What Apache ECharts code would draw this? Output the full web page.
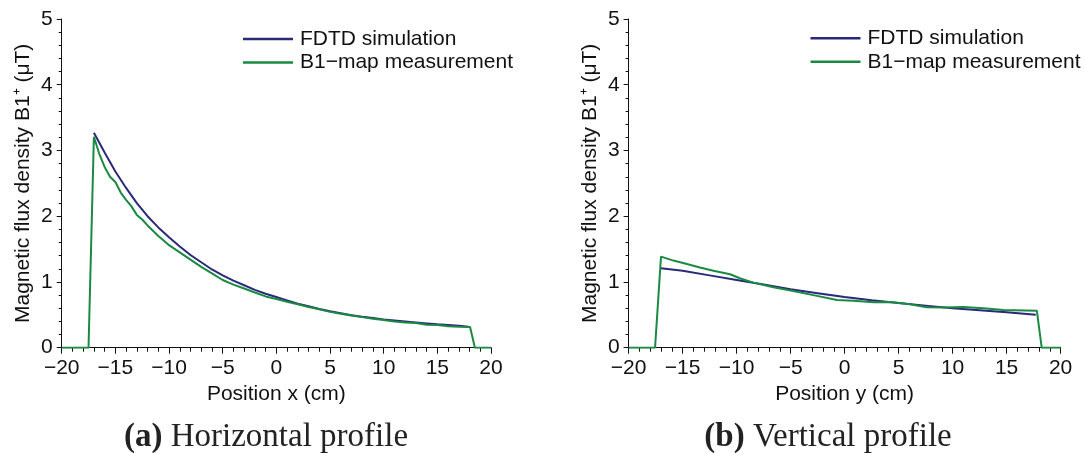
<!DOCTYPE html>
<html>
<head>
<meta charset="utf-8">
<script src="https://cdn.jsdelivr.net/npm/echarts@6/dist/echarts.min.js"></script>
<style>
  html, body { margin: 0; padding: 0; background: #fff; }
  #chart { width: 1085px; height: 453px; }
</style>
</head>
<body>
<div id="chart"></div>
<script>
// Horizontal profile (x direction)
const horizSimPos = [-17, -16, -15, -14, -13, -12, -11, -10, -9, -8, -7, -6, -5, -4, -3, -2, -1, 0,
  1, 2, 3, 4, 5, 6, 7, 8, 9, 10, 11, 12, 13, 14, 15, 16, 17, 17.9];
const horizSimB1 = [3.27, 2.97, 2.68, 2.43, 2.20, 2.00, 1.83, 1.68, 1.54, 1.41, 1.30, 1.19, 1.10, 1.02, 0.95, 0.88, 0.82, 0.77,
  0.72, 0.67, 0.63, 0.59, 0.555, 0.525, 0.495, 0.47, 0.45, 0.43, 0.415, 0.40, 0.385, 0.37, 0.355, 0.345, 0.335, 0.32];

const horizMeasPos = [-20, -17.5, -17, -16.5, -16, -15.5, -15, -14.5, -14, -13.5, -13, -12.5, -12, -11.5, -11, -10.5, -10,
  -9, -8, -7, -6, -5, -4, -3, -2, -1, 0, 1, 2, 3, 4, 5, 6, 7, 8, 9, 10, 11, 12, 13, 14, 15, 16, 17, 18.05, 18.5, 20];
const horizMeasB1 = [0, 0, 3.21, 2.95, 2.75, 2.60, 2.52, 2.36, 2.25, 2.15, 2.02, 1.95, 1.86, 1.78, 1.70, 1.63, 1.56,
  1.45, 1.34, 1.23, 1.13, 1.03, 0.96, 0.90, 0.84, 0.78, 0.74, 0.70, 0.66, 0.62, 0.585, 0.545, 0.515, 0.49, 0.465, 0.44,
  0.42, 0.40, 0.385, 0.375, 0.35, 0.345, 0.325, 0.32, 0.315, 0, 0];

// Vertical profile (y direction)
const vertSimPos = [-17, -15, -12.5, -10, -7.5, -5, -2.5, 0, 2.5, 5, 7.5, 10, 12.5, 15, 17.7];
const vertSimB1 = [1.21, 1.17, 1.10, 1.03, 0.96, 0.89, 0.83, 0.77, 0.72, 0.68, 0.64, 0.60, 0.57, 0.54, 0.50];

const vertMeasPos = [-20, -17.55, -17, -15.85, -14.6, -13.4, -12.15, -10.6, -9.7, -8.45, -6.6, -4.75, -2.9, -0.7,
  0.8, 2.7, 4.2, 6.05, 7.6, 9.15, 11.0, 12.85, 14.7, 17.8, 18.25, 20];
const vertMeasB1 = [0, 0, 1.385, 1.325, 1.274, 1.22, 1.17, 1.117, 1.056, 0.99, 0.92, 0.863, 0.80, 0.726,
  0.716, 0.69, 0.695, 0.66, 0.615, 0.61, 0.62, 0.60, 0.574, 0.563, 0, 0];

const seriesNames = ['FDTD simulation', 'B1\u2212map measurement'];
const xAxisTitles = ['Position x (cm)', 'Position y (cm)'];
const yAxisTitle = 'Magnetic flux density B1\u207A (\u03BCT)';
const captions = [['(a)', 'Horizontal profile'], ['(b)', 'Vertical profile']];

const SIM_COLOR = '#29297a';
const MEAS_COLOR = '#1a8a43';
const FONT = '"Liberation Sans", Arial, sans-serif';
const SERIF = '"Liberation Serif", "Times New Roman", serif';

const pairs = (xs, ys) => xs.map((x, i) => [x, ys[i]]);
const minusSign = v => String(v).replace('-', '\u2212');

const grids = [
  { left: 61.7, right: 594, top: 19, bottom: 105.3 },
  { left: 628.6, right: 24.4, top: 19, bottom: 105.3 }
];

function xAxis(i) {
  return {
    type: 'value', gridIndex: i, min: -20, max: 20, interval: 5,
    name: xAxisTitles[i], nameLocation: 'middle', nameGap: 33,
    nameTextStyle: { fontFamily: FONT, fontSize: 21, color: '#111' },
    axisLine: { onZero: false, lineStyle: { color: '#111', width: 1 } },
    axisTick: { length: 6, lineStyle: { color: '#111' } },
    minorTick: { show: true, splitNumber: 5, length: 4, lineStyle: { color: '#111' } },
    axisLabel: { fontFamily: FONT, fontSize: 21, color: '#111', margin: 10, formatter: minusSign },
    splitLine: { show: false }
  };
}
function yAxis(i) {
  return {
    type: 'value', gridIndex: i, min: 0, max: 5, interval: 1,
    name: yAxisTitle, nameLocation: 'middle', nameGap: 28,
    nameTextStyle: { fontFamily: FONT, fontSize: 21, color: '#111' },
    axisLine: { show: true, onZero: false, lineStyle: { color: '#111', width: 1 } },
    axisTick: { show: true, length: 5, lineStyle: { color: '#111' } },
    minorTick: { show: true, splitNumber: 5, length: 3, lineStyle: { color: '#111' } },
    axisLabel: { fontFamily: FONT, fontSize: 21, color: '#111', margin: 9 },
    splitLine: { show: false }
  };
}
function legend(left, top) {
  return {
    data: seriesNames, orient: 'vertical', left: left, top: top,
    icon: 'rect', itemWidth: 50, itemHeight: 2.5, itemGap: 2.5,
    selectedMode: false, padding: 0,
    textStyle: { fontFamily: FONT, fontSize: 21, color: '#111', lineHeight: 21, padding: [0, 0, 0, 2] }
  };
}
function line(name, data, idx, color, z) {
  return {
    type: 'line', name: name, data: data, xAxisIndex: idx, yAxisIndex: idx,
    showSymbol: false, symbol: 'none', z: z, animation: false,
    lineStyle: { color: color, width: 2 }, itemStyle: { color: color }
  };
}

const chart = echarts.init(document.getElementById('chart'), null, { renderer: 'canvas' });
chart.setOption({
  backgroundColor: '#fff',
  animation: false,
  grid: grids,
  xAxis: [xAxis(0), xAxis(1)],
  yAxis: [yAxis(0), yAxis(1)],
  legend: [legend(243, 28.5), legend(810.5, 27.8)],
  series: [
    line(seriesNames[0], pairs(horizSimPos, horizSimB1), 0, SIM_COLOR, 2),
    line(seriesNames[1], pairs(horizMeasPos, horizMeasB1), 0, MEAS_COLOR, 3),
    line(seriesNames[0], pairs(vertSimPos, vertSimB1), 1, SIM_COLOR, 2),
    line(seriesNames[1], pairs(vertMeasPos, vertMeasB1), 1, MEAS_COLOR, 3)
  ],
  graphic: captions.map((c, i) => ({
    type: 'text', x: i === 0 ? 266 : 828, y: 437,
    style: {
      text: '{b|' + c[0] + '} ' + c[1],
      fontFamily: SERIF, fontSize: 33, fill: '#222',
      align: 'center', verticalAlign: 'middle',
      rich: { b: { fontFamily: SERIF, fontSize: 33, fontWeight: 'bold', fill: '#222' } }
    }
  }))
});
</script>
</body>
</html>
